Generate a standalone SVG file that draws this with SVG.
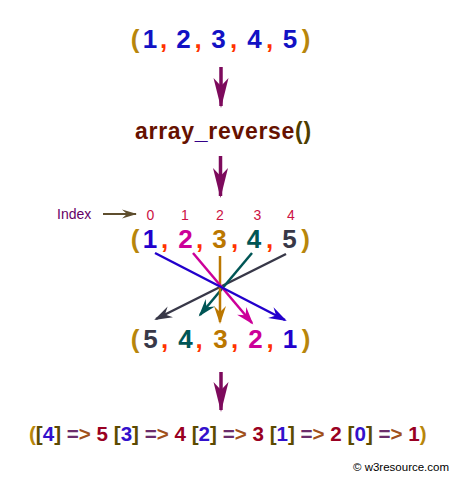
<svg xmlns="http://www.w3.org/2000/svg" width="452" height="478" viewBox="0 0 452 478">
<defs>
<style>
.big{font-family:"Liberation Sans",Arial,sans-serif;font-weight:bold;font-size:26px;text-anchor:middle}
.par{fill:#b8860b}
.com{fill:#ff3300}
.b1{fill:#1212c4}
.idx{font-family:"Liberation Sans",Arial,sans-serif;font-size:14px;fill:#cc1144;text-anchor:middle}
.c1{fill:#2200cc}.c2{fill:#cc0099}.c3{fill:#bb7700}.c4{fill:#005555}.c5{fill:#383848}
.ln{stroke-width:2.5;fill:none}
.va{stroke:#7d0a5c;stroke-width:3.5;fill:none}
.res{font-family:"Liberation Sans",Arial,sans-serif;font-weight:bold;font-size:20.6px}
.br{fill:#5c4a00}.ki{fill:#3311cc}.eq{fill:#6b2d6b}.gt{fill:#a0501a}.vv{fill:#990022}
</style>
<marker id="mP" viewBox="-30 -8 33 16" refX="0" refY="0" markerWidth="33" markerHeight="16" markerUnits="userSpaceOnUse" orient="auto"><path d="M2,0 L-28,-7.5 L-20,0 L-28,7.5 Z" fill="#7d0a5c"/></marker>
<marker id="m1" viewBox="-18 -7 21 14" refX="0" refY="0" markerWidth="21" markerHeight="14" markerUnits="userSpaceOnUse" orient="auto"><path d="M2,0 L-16,-6 L-10,0 L-16,6 Z" fill="#2200cc"/></marker>
<marker id="m2" viewBox="-18 -7 21 14" refX="0" refY="0" markerWidth="21" markerHeight="14" markerUnits="userSpaceOnUse" orient="auto"><path d="M2,0 L-16,-6 L-10,0 L-16,6 Z" fill="#cc0099"/></marker>
<marker id="m3" viewBox="-18 -7 21 14" refX="0" refY="0" markerWidth="21" markerHeight="14" markerUnits="userSpaceOnUse" orient="auto"><path d="M2,0 L-16,-6 L-10,0 L-16,6 Z" fill="#bb7700"/></marker>
<marker id="m4" viewBox="-18 -7 21 14" refX="0" refY="0" markerWidth="21" markerHeight="14" markerUnits="userSpaceOnUse" orient="auto"><path d="M2,0 L-16,-6 L-10,0 L-16,6 Z" fill="#005555"/></marker>
<marker id="m5" viewBox="-18 -7 21 14" refX="0" refY="0" markerWidth="21" markerHeight="14" markerUnits="userSpaceOnUse" orient="auto"><path d="M2,0 L-16,-6 L-10,0 L-16,6 Z" fill="#383848"/></marker>
<marker id="mI" viewBox="-16 -6 18 12" refX="0" refY="0" markerWidth="18" markerHeight="12" markerUnits="userSpaceOnUse" orient="auto"><path d="M1,0 L-14,-4.5 L-9,0 L-14,4.5 Z" fill="#5e4e2e"/></marker>
</defs>
<rect width="452" height="478" fill="#ffffff"/>

<g id="input">
<text class="big" y="48">
<tspan class="par" x="135">(</tspan><tspan class="b1" x="150">1</tspan><tspan class="com" x="163.5">,</tspan><tspan class="b1" x="183.5">2</tspan><tspan class="com" x="198">,</tspan><tspan class="b1" x="218.5">3</tspan><tspan class="com" x="233.5">,</tspan><tspan class="b1" x="254.5">4</tspan><tspan class="com" x="269.5">,</tspan><tspan class="b1" x="290">5</tspan><tspan class="par" x="306">)</tspan>
</text>
</g>

<g id="func">
<text x="135" y="139" font-family="Liberation Sans, Arial, sans-serif" font-weight="bold" font-size="23" letter-spacing="0.7" fill="#661100">array<tspan fill="#330088">_</tspan>reverse<tspan fill="#4d3d00">()</tspan></text>
</g>

<g id="index">
<text x="57" y="219" font-family="Liberation Sans, Arial, sans-serif" font-size="14" fill="#660066">Index</text>
<text class="idx" y="220"><tspan x="150.5">0</tspan><tspan x="185">1</tspan><tspan x="220">2</tspan><tspan x="257.5">3</tspan><tspan x="291">4</tspan></text>
</g>

<g id="original">
<text class="big" y="248">
<tspan class="par" x="135">(</tspan><tspan class="c1" x="150">1</tspan><tspan class="com" x="164.5">,</tspan><tspan class="c2" x="185.5">2</tspan><tspan class="com" x="199.5">,</tspan><tspan class="c3" x="219.5">3</tspan><tspan class="com" x="234.5">,</tspan><tspan class="c4" x="254">4</tspan><tspan class="com" x="269.5">,</tspan><tspan class="c5" x="289.5">5</tspan><tspan class="par" x="305.5">)</tspan>
</text>
</g>

<g id="reversed">
<text class="big" y="348">
<tspan class="par" x="135">(</tspan><tspan class="c5" x="150.5">5</tspan><tspan class="com" x="164.5">,</tspan><tspan class="c4" x="185.5">4</tspan><tspan class="com" x="199">,</tspan><tspan class="c3" x="220.5">3</tspan><tspan class="com" x="234.5">,</tspan><tspan class="c2" x="255.5">2</tspan><tspan class="com" x="270">,</tspan><tspan class="c1" x="290">1</tspan><tspan class="par" x="306">)</tspan>
</text>
</g>

<g id="result">
<text class="res" x="29" y="441"><tspan class="par">(</tspan><tspan class="br">[</tspan><tspan class="ki">4</tspan><tspan class="br">]</tspan> <tspan class="eq">=</tspan><tspan class="gt">&gt;</tspan> <tspan class="vv">5</tspan> <tspan class="br">[</tspan><tspan class="ki">3</tspan><tspan class="br">]</tspan> <tspan class="eq">=</tspan><tspan class="gt">&gt;</tspan> <tspan class="vv">4</tspan> <tspan class="br">[</tspan><tspan class="ki">2</tspan><tspan class="br">]</tspan> <tspan class="eq">=</tspan><tspan class="gt">&gt;</tspan> <tspan class="vv">3</tspan> <tspan class="br">[</tspan><tspan class="ki">1</tspan><tspan class="br">]</tspan> <tspan class="eq">=</tspan><tspan class="gt">&gt;</tspan> <tspan class="vv">2</tspan> <tspan class="br">[</tspan><tspan class="ki">0</tspan><tspan class="br">]</tspan> <tspan class="eq">=</tspan><tspan class="gt">&gt;</tspan> <tspan class="vv">1</tspan><tspan class="par">)</tspan></text>
</g>

<g id="connectors">
<line class="va" x1="221" y1="67" x2="221" y2="106" marker-end="url(#mP)"/>
<line class="va" x1="220.5" y1="156" x2="220.5" y2="196" marker-end="url(#mP)"/>
<line class="va" x1="221" y1="372" x2="221" y2="410" marker-end="url(#mP)"/>
<line x1="103" y1="214" x2="136" y2="214" stroke="#5e4e2e" stroke-width="2" marker-end="url(#mI)"/>
<line class="ln" stroke="#383848" x1="286" y1="254" x2="156" y2="319" marker-end="url(#m5)"/>
<line class="ln" stroke="#005555" x1="252" y1="253" x2="200" y2="315" marker-end="url(#m4)"/>
<line class="ln" stroke="#bb7700" x1="220" y1="256" x2="220" y2="322" marker-end="url(#m3)"/>
<line class="ln" stroke="#cc0099" x1="193" y1="253" x2="252" y2="323" marker-end="url(#m2)"/>
<line class="ln" stroke="#2200cc" x1="155" y1="253" x2="285" y2="320" marker-end="url(#m1)"/>
</g>

<text x="353" y="471" font-family="Liberation Sans, Arial, sans-serif" font-size="11.5" fill="#000000">© w3resource.com</text>
</svg>
